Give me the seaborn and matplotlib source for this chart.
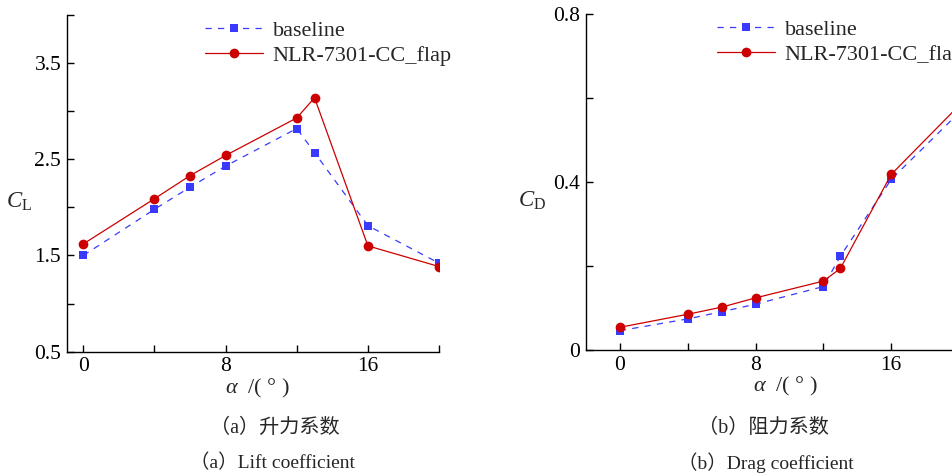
import matplotlib
matplotlib.use("Agg")
import matplotlib.pyplot as plt
import seaborn as sns
import pandas as pd

# ---- data ----
alpha = [0, 4, 6, 8, 12, 13, 16, 20]
cl_baseline = [1.50, 1.98, 2.21, 2.43, 2.82, 2.57, 1.81, 1.42]
cl_flap = [1.62, 2.09, 2.33, 2.54, 2.93, 3.14, 1.60, 1.385]
cd_baseline = [0.046, 0.074, 0.091, 0.109, 0.151, 0.223, 0.406, 0.565]
cd_flap = [0.054, 0.085, 0.102, 0.124, 0.164, 0.194, 0.418, 0.582]
series_names = ["baseline", "NLR-7301-CC_flap"]

cl_ticks = [0.5, 1.0, 1.5, 2.0, 2.5, 3.0, 3.5, 4.0]
cl_ticklabels = ["0.5", "", "1.5", "", "2.5", "", "3.5", ""]
cd_ticks = [0.0, 0.2, 0.4, 0.6, 0.8]
cd_ticklabels = ["0", "", "0.4", "", "0.8"]
x_ticks = [0, 4, 8, 12, 16, 20]
x_ticklabels = ["0", "", "8", "", "16", ""]

captions = [("（a）升力系数", "（a）Lift coefficient"),
            ("（b）阻力系数", "（b）Drag coefficient")]

sns.set_style("ticks")
plt.rcParams["font.family"] = ["Liberation Serif", "Noto Sans CJK SC", "DejaVu Sans"]
plt.rcParams["mathtext.fontset"] = "custom"
plt.rcParams["mathtext.rm"] = "Liberation Serif"
plt.rcParams["mathtext.it"] = "Liberation Serif:italic"
plt.rcParams["xtick.direction"] = "in"
plt.rcParams["ytick.direction"] = "in"

BLUE = "#3a3aff"
RED = "#cc0000"

fig = plt.figure(figsize=(9.52, 4.75), dpi=100)
axL = fig.add_axes([0.0701, 0.2596, 0.3911, 0.7088])
axR = fig.add_axes([0.6155, 0.2632, 0.4275, 0.7074])

def draw(ax, yb, yf):
    df_b = pd.DataFrame({"alpha": alpha, "val": yb})
    df_f = pd.DataFrame({"alpha": alpha, "val": yf})
    sns.lineplot(data=df_b, x="alpha", y="val", ax=ax, color=BLUE,
                 marker="s", markersize=6, markeredgewidth=0,
                 linestyle=(0, (5, 5)), linewidth=0.9, label=series_names[0])
    sns.lineplot(data=df_f, x="alpha", y="val", ax=ax, color=RED,
                 marker="o", markersize=7, markeredgewidth=0,
                 linestyle="-", linewidth=0.9, label=series_names[1])
    for s in ["top", "right"]:
        ax.spines[s].set_visible(False)
    for s in ["left", "bottom"]:
        ax.spines[s].set_color("black")
        ax.spines[s].set_linewidth(1.0)
    ax.set_xticks(x_ticks)
    ax.set_xticklabels(x_ticklabels)
    ax.tick_params(axis="both", direction="in", length=5, width=1.0,
                   labelsize=15.5, colors="black", pad=4)
    ax.set_facecolor("white")

draw(axL, cl_baseline, cl_flap)
axL.set_xlim(-0.93, 20)
axL.set_ylim(0.5, 4.0)
axL.set_yticks(cl_ticks)
axL.set_yticklabels(cl_ticklabels)

draw(axR, cd_baseline, cd_flap)
axR.set_xlim(-2, 22)
axR.set_ylim(0, 0.8)
axR.set_yticks(cd_ticks)
axR.set_yticklabels(cd_ticklabels)

axL.set_ylabel(r"$C_{\mathrm{L}}$", rotation=0, fontsize=16.5, ha="center", va="center")
axL.yaxis.set_label_coords(-0.128, 0.445)
axR.set_ylabel(r"$C_{\mathrm{D}}$", rotation=0, fontsize=16.5, ha="center", va="center")
axR.yaxis.set_label_coords(-0.133, 0.445)

for ax, xc in [(axL, 0.511), (axR, 0.491)]:
    ax.set_xlabel(r"$\alpha$  /( ° )", fontsize=16, ha="center", va="center")
    ax.xaxis.set_label_coords(xc, -0.108)

for ax, x0 in [(axL, 0.3715), (axR, 0.322)]:
    ax.legend(loc="upper left", bbox_to_anchor=(x0, 0.985), frameon=False,
              fontsize=16, handlelength=2.6, handletextpad=0.45,
              labelspacing=0.2, borderaxespad=0, borderpad=0)

cap_pos = [(275, 273), (763.5, 766)]
for (cn, en), (xc1, xc2) in zip(captions, cap_pos):
    fig.text(xc1 / 952, 1 - 428 / 475, cn, ha="center", va="center", fontsize=14.5)
    fig.text(xc2 / 952, 1 - 463 / 475, en, ha="center", va="center", fontsize=14)

fig.savefig("out.png", dpi=100, facecolor="white")
